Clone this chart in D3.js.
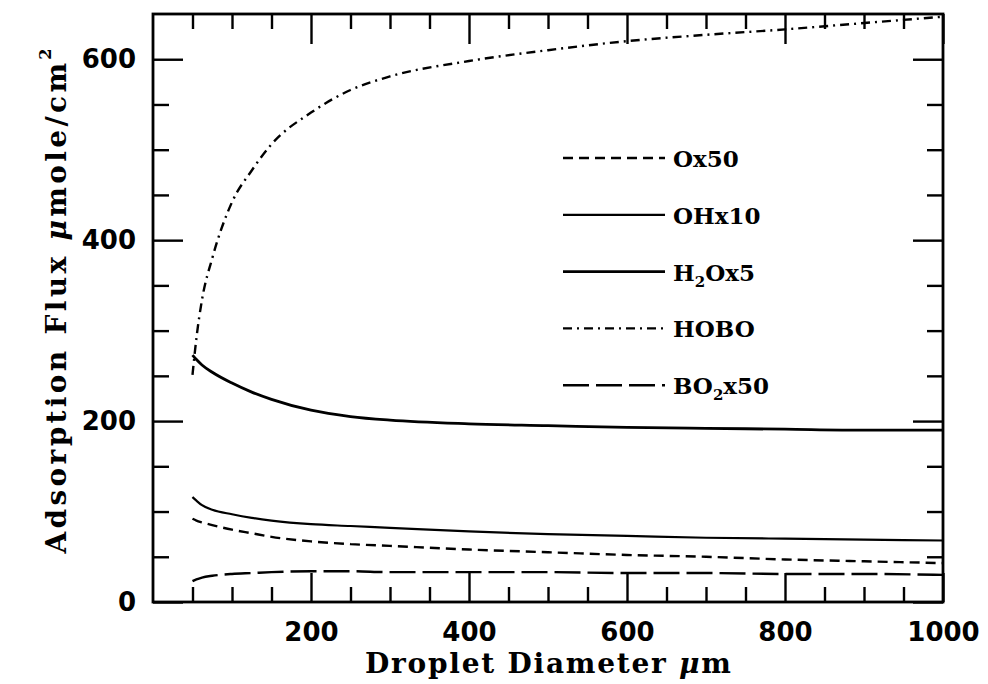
<!DOCTYPE html>
<html>
<head>
<meta charset="utf-8">
<script src="https://cdn.jsdelivr.net/npm/d3@7"></script>
<style>
  body { margin: 0; background: #fff; }
  svg { display: block; }
</style>
</head>
<body>
<script>
var diameters = [50, 55, 62, 75, 100, 125, 150, 200, 250, 300, 400, 500, 600, 700, 800, 900, 1000];

// adsorption flux, umole/cm^2 (already scaled as in the legend)
var oX50   = [92, 90, 88, 85, 80, 76, 72, 67, 64, 62, 58, 55, 52, 50, 47, 45, 43];
var ohX10  = [116, 112, 107, 102, 97, 93, 90, 86, 84, 82, 78, 75, 73, 71, 70, 69, 68];
var h2oX5  = [273, 268, 262, 254, 242, 232, 224, 212, 205, 201, 197, 195, 193, 192, 191, 190, 190];
var hobo   = [251, 292, 334, 380, 442, 477, 506, 541, 566, 581, 598, 610, 620, 627, 633, 640, 647];
var bo2X50 = [23, 25, 27, 29, 31, 32, 33, 34, 34, 33, 33, 33, 32, 32, 31, 31, 30];

var xMajor = [200, 400, 600, 800, 1000];
var yMajor = [0, 200, 400, 600];

var width = 988, height = 684;
var margin = {left: 153, right: 45, top: 14, bottom: 82};
var serif = "'DejaVu Serif', serif";

var series = [
  {name: [["O"], ["x50"]], values: oX50, dash: "10,6", w: 2.4},
  {name: [["OHx10"]], values: ohX10, dash: null, w: 2.2},
  {name: [["H"], ["2", "sub"], ["Ox5"]], values: h2oX5, dash: null, w: 2.8},
  {name: [["HOBO"]], values: hobo, dash: "9,5,2,5", w: 2.4},
  {name: [["BO"], ["2", "sub"], ["x50"]], values: bo2X50, dash: "26,7", w: 2.4}
];

var svg = d3.select("body").append("svg")
    .attr("width", width)
    .attr("height", height);

svg.append("rect").attr("width", width).attr("height", height).attr("fill", "#fff");

var x = d3.scaleLinear().domain([0, 1000]).range([margin.left, width - margin.right]);
var y = d3.scaleLinear().domain([0, 650]).range([height - margin.bottom, margin.top]);

var minorX = d3.range(50, 1000, 50).filter(function(d) { return xMajor.indexOf(d) < 0; });
var minorY = d3.range(50, 650, 50).filter(function(d) { return yMajor.indexOf(d) < 0; });

function styleAxis(g) {
  g.select(".domain").remove();
  g.selectAll(".tick line").attr("stroke", "#000").attr("stroke-width", 2.4);
  g.selectAll(".tick text")
    .attr("font-family", "'DejaVu Sans', sans-serif")
    .attr("font-weight", "bold")
    .attr("font-size", 26)
    .attr("fill", "#000");
}

var yBot = y(0), yTop = y(650), xLeft = x(0), xRight = x(1000);

// bottom
svg.append("g").attr("transform", "translate(0," + yBot + ")")
  .call(d3.axisBottom(x).tickValues(xMajor).tickSize(-29).tickPadding(21).tickFormat(d3.format("d")))
  .call(styleAxis);
svg.append("g").attr("transform", "translate(0," + yBot + ")")
  .call(d3.axisBottom(x).tickValues(minorX).tickSize(-15).tickFormat(""))
  .call(styleAxis);
// top
svg.append("g").attr("transform", "translate(0," + yTop + ")")
  .call(d3.axisTop(x).tickValues(xMajor).tickSize(-30).tickFormat(""))
  .call(styleAxis);
svg.append("g").attr("transform", "translate(0," + yTop + ")")
  .call(d3.axisTop(x).tickValues(minorX).tickSize(-15).tickFormat(""))
  .call(styleAxis);
// left
svg.append("g").attr("transform", "translate(" + xLeft + ",0)")
  .call(d3.axisLeft(y).tickValues(yMajor).tickSize(-30).tickPadding(17).tickFormat(d3.format("d")))
  .call(styleAxis);
svg.append("g").attr("transform", "translate(" + xLeft + ",0)")
  .call(d3.axisLeft(y).tickValues(minorY).tickSize(-16).tickFormat(""))
  .call(styleAxis);
// right
svg.append("g").attr("transform", "translate(" + xRight + ",0)")
  .call(d3.axisRight(y).tickValues(yMajor).tickSize(-30).tickFormat(""))
  .call(styleAxis);
svg.append("g").attr("transform", "translate(" + xRight + ",0)")
  .call(d3.axisRight(y).tickValues(minorY).tickSize(-16).tickFormat(""))
  .call(styleAxis);

// frame
svg.append("rect")
  .attr("x", xLeft).attr("y", yTop)
  .attr("width", xRight - xLeft).attr("height", yBot - yTop)
  .attr("fill", "none").attr("stroke", "#000").attr("stroke-width", 2.8);

// curves
var line = d3.line()
  .x(function(d) { return x(d[0]); })
  .y(function(d) { return y(d[1]); })
  .curve(d3.curveMonotoneX);

series.forEach(function(s) {
  svg.append("path")
    .datum(diameters.map(function(d, i) { return [d, s.values[i]]; }))
    .attr("d", line)
    .attr("fill", "none")
    .attr("stroke", "#000")
    .attr("stroke-width", s.w)
    .attr("stroke-dasharray", s.dash);
});

// legend
var legend = svg.append("g").attr("transform", "translate(563,158)");
series.forEach(function(s, i) {
  var row = legend.append("g").attr("transform", "translate(0," + (i * 56.8) + ")");
  row.append("line")
    .attr("x1", 0).attr("x2", 102)
    .attr("stroke", "#000")
    .attr("stroke-width", s.w)
    .attr("stroke-dasharray", s.dash);
  var t = row.append("text")
    .attr("x", 110).attr("y", 9)
    .attr("font-family", serif)
    .attr("font-weight", "bold")
    .attr("font-size", 23);
  var shift = 0;
  s.name.forEach(function(part) {
    var ts = t.append("tspan").text(part[0]);
    if (part[1] === "sub") {
      ts.attr("font-size", 15).attr("dy", 6);
      shift = 6;
    } else if (shift) {
      ts.attr("dy", -shift);
      shift = 0;
    }
  });
});

// x title
var xt = svg.append("text")
  .attr("x", (xLeft + xRight) / 2).attr("y", 673)
  .attr("text-anchor", "middle")
  .attr("font-family", serif)
  .attr("font-weight", "bold")
  .attr("font-size", 28)
  .attr("textLength", 366)
  .attr("lengthAdjust", "spacing");
xt.append("tspan").text("Droplet Diameter ");
xt.append("tspan").text("μ").attr("font-style", "italic");
xt.append("tspan").text("m");

// y title
var yt = svg.append("text")
  .attr("transform", "translate(66," + 301 + ") rotate(-90)")
  .attr("text-anchor", "middle")
  .attr("font-family", serif)
  .attr("font-weight", "bold")
  .attr("font-size", 28)
  .attr("textLength", 505)
  .attr("lengthAdjust", "spacing");
yt.append("tspan").text("Adsorption Flux ");
yt.append("tspan").text("μ").attr("font-style", "italic");
yt.append("tspan").text("mole/cm");
yt.append("tspan").text("2").attr("font-size", 16).attr("dy", -15);
</script>
</body>
</html>
